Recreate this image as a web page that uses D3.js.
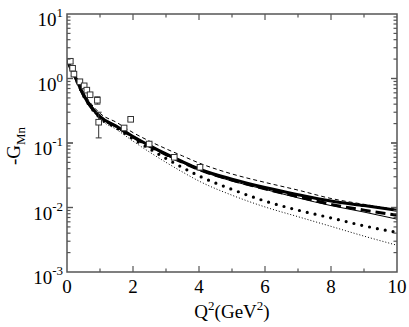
<!DOCTYPE html>
<html>
<head>
<meta charset="utf-8">
<script src="https://cdn.jsdelivr.net/npm/d3@7"></script>
<style>
  body { margin: 0; background: #fff; }
</style>
</head>
<body>
<svg id="chart" width="409" height="327"></svg>
<script>
// data
var q2 = [0, 0.25, 0.5, 1, 1.5, 2, 2.5, 3, 3.5, 4, 5, 6, 7, 8, 9, 10];
var thickSolid  = [1.91, 1.05, 0.555, 0.256, 0.182, 0.126, 0.0912, 0.0676, 0.0513, 0.0398, 0.0275, 0.0204, 0.0158, 0.0126, 0.0107, 0.0091];
var thinDashed  = [1.95, 1.15, 0.617, 0.288, 0.209, 0.145, 0.107, 0.0813, 0.0631, 0.049, 0.0331, 0.0245, 0.0186, 0.0138, 0.0112, 0.0093];
var thickDashed = [1.91, 1.05, 0.555, 0.254, 0.18, 0.124, 0.0891, 0.0661, 0.0501, 0.0389, 0.0266, 0.0195, 0.0148, 0.0112, 0.0091, 0.0076];
var thinSolid   = [1.91, 1.02, 0.55, 0.251, 0.178, 0.123, 0.0881, 0.0646, 0.049, 0.038, 0.0257, 0.0191, 0.0141, 0.0107, 0.0085, 0.0066];
var bigDots     = [1.91, 1.02, 0.543, 0.245, 0.172, 0.116, 0.0813, 0.0575, 0.0417, 0.0309, 0.0191, 0.0126, 0.0091, 0.0069, 0.0052, 0.0041];
var thinDotted  = [1.91, 1.0, 0.531, 0.234, 0.162, 0.107, 0.0724, 0.0501, 0.0355, 0.0257, 0.0155, 0.0102, 0.0072, 0.0051, 0.0036, 0.0026];

// experimental points: Q2, -GMn, error
var expQ2  = [0.10, 0.17, 0.21, 0.39, 0.52, 0.60, 0.70, 0.92, 0.96, 1.73, 1.93, 2.49, 3.25, 4.03];
var expG   = [1.85, 1.44, 1.17, 0.89, 0.77, 0.66, 0.56, 0.46, 0.21, 0.171, 0.233, 0.0964, 0.060, 0.042];
var expErr = [0.15, 0.08, 0.06, 0.05, 0.04, 0.04, 0.03, 0.06, 0.09, 0.01, 0.012, 0.005, 0.003, 0.002];

var xTicks = [0, 2, 4, 6, 8, 10];
var yTicks = [10, 1, 0.1, 0.01, 0.001];
var yExp = ["1", "0", "-1", "-2", "-3"];

var serif = "Liberation Serif";

var margin = { top: 14, right: 12, bottom: 55, left: 67 },
    width = 409 - margin.left - margin.right,
    height = 327 - margin.top - margin.bottom;

var svg = d3.select("#chart");
var g = svg.append("g").attr("transform", "translate(" + margin.left + "," + margin.top + ")");

var x = d3.scaleLinear().domain([0, 10]).range([0, width]);
var y = d3.scaleLog().domain([0.001, 10]).range([height, 0]);

svg.append("clipPath").attr("id", "clip")
  .append("rect").attr("width", width).attr("height", height);

var plot = g.append("g").attr("clip-path", "url(#clip)");

var line = d3.line()
  .x(function(d) { return x(d[0]); })
  .y(function(d) { return y(d[1]); })
  .curve(d3.curveMonotoneX);

function pairs(vals) { return q2.map(function(q, i) { return [q, vals[i]]; }); }

var series = [
  { vals: thinDotted,  w: 1,   dash: "1,2",  cap: "butt" },
  { vals: bigDots,     w: 3.2, dash: "0,8",  cap: "round" },
  { vals: thinSolid,   w: 1,   dash: null,   cap: "butt" },
  { vals: thinDashed,  w: 1,   dash: "4,3",  cap: "butt" },
  { vals: thickDashed, w: 3,   dash: "10,5", cap: "butt" },
  { vals: thickSolid,  w: 3,   dash: null,   cap: "butt" }
];

series.forEach(function(s) {
  plot.append("path")
    .datum(pairs(s.vals))
    .attr("d", line)
    .attr("fill", "none")
    .attr("stroke", "#000")
    .attr("stroke-width", s.w)
    .attr("stroke-linecap", s.cap)
    .attr("stroke-dasharray", s.dash);
});

// data points with error bars
var pts = expQ2.map(function(q, i) { return { q: q, v: expG[i], e: expErr[i] }; });

var eb = g.append("g").attr("stroke", "#333").attr("stroke-width", 1).attr("fill", "none");
pts.forEach(function(p) {
  var cx = x(p.q), y1 = y(p.v + p.e), y2 = y(Math.max(p.v - p.e, 1e-4));
  eb.append("line").attr("x1", cx).attr("x2", cx).attr("y1", y1).attr("y2", y2);
  eb.append("line").attr("x1", cx - 3).attr("x2", cx + 3).attr("y1", y1).attr("y2", y1);
  eb.append("line").attr("x1", cx - 3).attr("x2", cx + 3).attr("y1", y2).attr("y2", y2);
});

g.selectAll(".pt")
  .data(pts)
  .enter()
  .append("rect")
  .attr("class", "pt")
  .attr("x", function(d) { return x(d.q) - 2.8; })
  .attr("y", function(d) { return y(d.v) - 2.8; })
  .attr("width", 5.6)
  .attr("height", 5.6)
  .attr("fill", "#fff")
  .attr("stroke", "#333")
  .attr("stroke-width", 1);

// frame and inward ticks
var axisColor = "#555";
g.append("rect")
  .attr("width", width).attr("height", height)
  .attr("fill", "none").attr("stroke", axisColor).attr("stroke-width", 1.5);

var tickG = g.append("g").attr("stroke", axisColor).attr("stroke-width", 1.2);
d3.range(0, 11, 1).forEach(function(v) {
  var len = (v % 2 === 0) ? 6 : 3.5;
  if (v === 0 || v === 10) return;
  tickG.append("line").attr("x1", x(v)).attr("x2", x(v)).attr("y1", height).attr("y2", height - len);
  tickG.append("line").attr("x1", x(v)).attr("x2", x(v)).attr("y1", 0).attr("y2", len);
});
[0.001, 0.01, 0.1, 1].forEach(function(dec) {
  for (var k = 1; k <= 10; k++) {
    var v = dec * k, len = (k === 1 || k === 10) ? 6 : 3.5;
    if (v <= 0.001 || v >= 10) continue;
    tickG.append("line").attr("x1", 0).attr("x2", len).attr("y1", y(v)).attr("y2", y(v));
    tickG.append("line").attr("x1", width).attr("x2", width - len).attr("y1", y(v)).attr("y2", y(v));
  }
});

// tick labels
g.selectAll(".xl")
  .data(xTicks)
  .enter()
  .append("text")
  .attr("x", function(d) { return x(d); })
  .attr("y", height + 21)
  .attr("text-anchor", "middle")
  .attr("font-family", serif)
  .attr("font-size", 19)
  .text(function(d) { return d; });

yTicks.forEach(function(v, i) {
  var t = g.append("text")
    .attr("x", -4)
    .attr("y", y(v) + 12)
    .attr("text-anchor", "end")
    .attr("font-family", serif)
    .attr("font-size", 19);
  t.append("tspan").text("10");
  t.append("tspan").attr("dy", -9).attr("font-size", 13).text(yExp[i]);
});

// axis titles
var xt = svg.append("text")
  .attr("x", margin.left + width / 2)
  .attr("y", 318)
  .attr("text-anchor", "middle")
  .attr("font-family", serif)
  .attr("font-size", 19);
xt.append("tspan").text("Q");
xt.append("tspan").attr("dy", -8).attr("font-size", 13).text("2");
xt.append("tspan").attr("dy", 8).text("(GeV");
xt.append("tspan").attr("dy", -8).attr("font-size", 13).text("2");
xt.append("tspan").attr("dy", 8).text(")");

var yt = svg.append("text")
  .attr("transform", "translate(20,146) rotate(-90)")
  .attr("text-anchor", "middle")
  .attr("font-family", serif)
  .attr("font-size", 19);
yt.append("tspan").text("-G");
yt.append("tspan").attr("dy", 5).attr("font-size", 13).text("Mn");
</script>
</body>
</html>
